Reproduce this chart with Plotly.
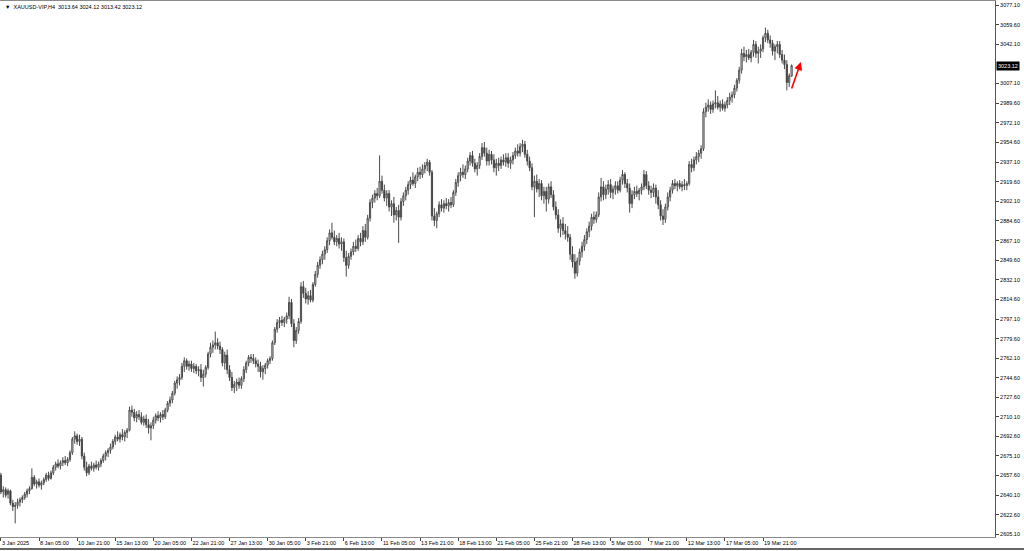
import plotly.graph_objects as go

symbol_title = "XAUUSD-VIP,H4  3013.64 3024.12 3013.42 3023.12"

opens = [
    2658, 2643, 2645, 2641, 2644, 2633, 2630, 2631, 2634, 2636,
    2638, 2641, 2644, 2646, 2656, 2650, 2652, 2649, 2651, 2654,
    2658, 2655, 2660, 2665, 2668, 2666, 2669, 2671, 2669, 2672,
    2678, 2690, 2693, 2688, 2690, 2675, 2665, 2660, 2666, 2664,
    2667, 2665, 2668, 2671, 2675, 2678, 2680, 2683, 2688, 2692,
    2690, 2694, 2692, 2696, 2698, 2716, 2714, 2709, 2712, 2710,
    2705, 2708, 2703, 2700, 2702, 2707, 2711, 2709, 2712, 2710,
    2716, 2722, 2725, 2731, 2740, 2743, 2745, 2755, 2760, 2755,
    2757, 2753, 2755, 2751, 2752, 2745, 2748, 2754, 2766, 2772,
    2774, 2776, 2773, 2770, 2758, 2765, 2752, 2745, 2736, 2739,
    2741, 2738, 2744, 2752, 2758, 2763, 2762, 2760, 2757, 2755,
    2750, 2753, 2756, 2760, 2762, 2776, 2788, 2794, 2796, 2794,
    2797, 2800, 2812, 2793, 2778, 2787, 2795, 2826, 2820, 2815,
    2818, 2814, 2828, 2837, 2845, 2850, 2855, 2859, 2867, 2874,
    2870, 2866, 2869, 2864, 2866, 2852, 2845, 2853, 2857, 2862,
    2860, 2869, 2866, 2876, 2870, 2887, 2901, 2905, 2909, 2907,
    2920, 2912, 2905, 2909, 2897, 2900, 2890, 2894, 2888, 2902,
    2907, 2912, 2917, 2921, 2918, 2924, 2928, 2926, 2931, 2934,
    2937, 2928, 2889, 2885, 2891, 2899, 2896, 2900, 2898, 2901,
    2899, 2910, 2919, 2925, 2928, 2926, 2931, 2938, 2943, 2936,
    2931, 2934, 2942, 2950, 2945, 2938, 2944, 2939, 2932, 2936,
    2934, 2939, 2937, 2941, 2936, 2939, 2943, 2947, 2945, 2951,
    2953, 2944, 2938, 2932, 2915, 2920, 2913, 2918, 2907, 2911,
    2904, 2915, 2908, 2897, 2890, 2878, 2882, 2876, 2873, 2870,
    2855, 2848, 2838, 2849, 2857, 2862, 2868, 2875, 2880, 2888,
    2886, 2890, 2906, 2915, 2908, 2913, 2917, 2910, 2913, 2916,
    2912, 2921, 2926, 2918, 2914, 2900, 2908, 2911, 2909, 2912,
    2915, 2926, 2916, 2912, 2910, 2914, 2906, 2899, 2889, 2886,
    2897, 2906, 2912, 2918, 2916, 2918, 2915, 2917, 2916, 2918,
    2935, 2932, 2939, 2942, 2945, 2949, 2982, 2986, 2988, 2984,
    2989, 2990, 2986, 2989, 2985, 2988, 2992, 2995, 2997, 3003,
    3010, 3019, 3034, 3031, 3033, 3030, 3035, 3042, 3034, 3036,
    3038, 3048, 3052, 3046, 3043, 3036, 3040, 3042, 3033, 3028,
    3024, 3008, 3013.64,
]

highs = [
    2660, 2648, 2647, 2646, 2645, 2636, 2634, 2637, 2638, 2640,
    2643, 2646, 2648, 2664, 2658, 2654, 2655, 2653, 2656, 2660,
    2661, 2662, 2667, 2670, 2672, 2671, 2674, 2675, 2674, 2680,
    2692, 2697, 2695, 2694, 2692, 2678, 2670, 2668, 2670, 2669,
    2671, 2670, 2673, 2677, 2680, 2682, 2686, 2690, 2694, 2697,
    2696, 2699, 2698, 2700, 2719, 2720, 2717, 2715, 2716, 2714,
    2711, 2712, 2708, 2705, 2710, 2713, 2715, 2714, 2716, 2718,
    2724, 2728, 2733, 2742, 2746, 2748, 2758, 2763, 2762, 2760,
    2760, 2758, 2757, 2755, 2757, 2752, 2756, 2768, 2776, 2778,
    2786, 2780, 2777, 2772, 2768, 2770, 2756, 2750, 2742, 2744,
    2745, 2746, 2755, 2760, 2765, 2766, 2766, 2763, 2761, 2759,
    2756, 2758, 2762, 2764, 2778, 2790, 2797, 2799, 2800, 2799,
    2803, 2817, 2815, 2797, 2790, 2798, 2830, 2831, 2825, 2822,
    2823, 2830, 2840, 2848, 2853, 2858, 2862, 2870, 2877, 2883,
    2876, 2872, 2874, 2870, 2869, 2858, 2856, 2860, 2866, 2868,
    2872, 2874, 2880, 2882, 2890, 2904, 2908, 2912, 2914, 2943,
    2925, 2917, 2912, 2912, 2903, 2906, 2897, 2899, 2905, 2910,
    2915, 2920, 2924, 2928, 2926, 2932, 2933, 2935, 2937, 2940,
    2939, 2930, 2896, 2893, 2902, 2904, 2903, 2905, 2904, 2906,
    2912, 2922, 2928, 2932, 2935, 2934, 2941, 2946, 2947, 2940,
    2937, 2945, 2954, 2955, 2950, 2948, 2947, 2944, 2940, 2941,
    2942, 2944, 2945, 2945, 2942, 2946, 2950, 2953, 2954, 2957,
    2956, 2948, 2942, 2936, 2925, 2926, 2922, 2921, 2915, 2915,
    2918, 2920, 2912, 2902, 2895, 2886, 2888, 2882, 2880, 2873,
    2862, 2855, 2852, 2860, 2866, 2872, 2878, 2884, 2891, 2893,
    2893, 2910, 2923, 2920, 2917, 2921, 2922, 2916, 2920, 2920,
    2924, 2930, 2928, 2922, 2918, 2912, 2915, 2916, 2914, 2918,
    2930, 2929, 2920, 2916, 2918, 2917, 2912, 2903, 2895, 2900,
    2910, 2915, 2921, 2922, 2920, 2921, 2920, 2922, 2920, 2938,
    2940, 2942, 2946, 2948, 2952, 2985, 2990, 2993, 2991, 2992,
    3001, 2996, 2992, 2993, 2991, 2995, 2999, 3000, 3006, 3012,
    3022, 3038, 3040, 3037, 3038, 3037, 3046, 3045, 3040, 3042,
    3050, 3057, 3055, 3050, 3046, 3042, 3045, 3045, 3037, 3033,
    3028, 3016, 3024.12,
]

lows = [
    2641, 2638, 2638, 2637, 2631, 2626, 2615, 2628, 2630, 2633,
    2636, 2638, 2641, 2645, 2648, 2646, 2647, 2645, 2649, 2652,
    2653, 2654, 2658, 2662, 2664, 2663, 2666, 2667, 2666, 2670,
    2676, 2686, 2685, 2684, 2672, 2662, 2657, 2658, 2662, 2661,
    2663, 2662, 2665, 2669, 2671, 2674, 2677, 2681, 2685, 2688,
    2687, 2689, 2688, 2691, 2697, 2710, 2706, 2705, 2707, 2703,
    2702, 2700, 2695, 2689, 2699, 2704, 2706, 2705, 2707, 2708,
    2714, 2719, 2722, 2729, 2735, 2738, 2743, 2750, 2752, 2751,
    2750, 2749, 2748, 2746, 2741, 2737, 2745, 2752, 2763, 2767,
    2770, 2770, 2766, 2755, 2752, 2748, 2742, 2733, 2731, 2733,
    2735, 2735, 2741, 2749, 2755, 2758, 2757, 2754, 2750, 2745,
    2743, 2748, 2753, 2757, 2760, 2774, 2785, 2789, 2791, 2790,
    2793, 2797, 2790, 2772, 2775, 2784, 2793, 2816, 2811, 2810,
    2812, 2812, 2826, 2834, 2842, 2846, 2850, 2856, 2863, 2868,
    2863, 2862, 2860, 2858, 2848, 2835, 2842, 2850, 2854, 2857,
    2858, 2862, 2863, 2866, 2868, 2884, 2896, 2901, 2903, 2905,
    2909, 2902, 2898, 2893, 2889, 2883, 2885, 2865, 2885, 2898,
    2903, 2908, 2913, 2916, 2914, 2920, 2922, 2923, 2927, 2929,
    2925, 2885, 2880, 2878, 2888, 2893, 2892, 2895, 2893, 2896,
    2897, 2907, 2915, 2920, 2923, 2922, 2928, 2934, 2933, 2928,
    2925, 2931, 2939, 2942, 2934, 2934, 2935, 2928, 2925, 2929,
    2931, 2934, 2933, 2932, 2931, 2935, 2940, 2942, 2942, 2946,
    2941, 2934, 2929, 2912, 2888, 2910, 2906, 2903, 2900, 2893,
    2900, 2905, 2894, 2886, 2874, 2870, 2872, 2868, 2866, 2850,
    2843, 2833, 2835, 2845, 2852, 2858, 2864, 2870, 2876, 2882,
    2883, 2888, 2902, 2903, 2904, 2908, 2905, 2904, 2908, 2909,
    2910, 2917, 2914, 2910, 2892, 2896, 2904, 2906, 2903, 2908,
    2912, 2913, 2908, 2905, 2906, 2900, 2895, 2885, 2881, 2883,
    2894, 2902, 2909, 2913, 2911, 2913, 2911, 2912, 2912, 2916,
    2928, 2929, 2935, 2937, 2940, 2947, 2977, 2982, 2980, 2981,
    2985, 2984, 2982, 2983, 2982, 2985, 2988, 2990, 2994, 3000,
    3007, 3016, 3027, 3026, 3028, 3026, 3031, 3030, 3025, 3030,
    3035, 3044, 3043, 3039, 3032, 3028, 3034, 3030, 3025, 3020,
    3001, 3004, 3013.42,
]

closes = [
    2643, 2645, 2640, 2644, 2633, 2630, 2631, 2634, 2636, 2638,
    2641, 2644, 2646, 2656, 2650, 2652, 2649, 2651, 2654, 2658,
    2655, 2660, 2665, 2668, 2666, 2669, 2671, 2669, 2672, 2678,
    2690, 2693, 2688, 2690, 2675, 2665, 2660, 2666, 2664, 2667,
    2665, 2668, 2671, 2675, 2678, 2680, 2683, 2688, 2692, 2690,
    2694, 2692, 2696, 2698, 2716, 2714, 2709, 2712, 2710, 2705,
    2708, 2703, 2700, 2702, 2707, 2711, 2709, 2712, 2710, 2716,
    2722, 2725, 2731, 2740, 2743, 2745, 2755, 2760, 2755, 2757,
    2753, 2755, 2751, 2752, 2745, 2748, 2754, 2766, 2772, 2774,
    2776, 2773, 2770, 2758, 2765, 2752, 2745, 2736, 2739, 2741,
    2738, 2744, 2752, 2758, 2763, 2762, 2760, 2757, 2755, 2750,
    2753, 2756, 2760, 2762, 2776, 2788, 2794, 2796, 2794, 2797,
    2800, 2812, 2793, 2778, 2787, 2795, 2826, 2820, 2815, 2818,
    2814, 2828, 2837, 2845, 2850, 2855, 2859, 2867, 2874, 2870,
    2866, 2869, 2864, 2866, 2852, 2845, 2853, 2857, 2862, 2860,
    2869, 2866, 2876, 2870, 2887, 2901, 2905, 2909, 2907, 2920,
    2912, 2905, 2909, 2897, 2900, 2890, 2894, 2888, 2902, 2907,
    2912, 2917, 2921, 2918, 2924, 2928, 2926, 2931, 2934, 2937,
    2928, 2889, 2885, 2891, 2899, 2896, 2900, 2898, 2901, 2899,
    2910, 2919, 2925, 2928, 2926, 2931, 2938, 2943, 2936, 2931,
    2934, 2942, 2950, 2945, 2938, 2944, 2939, 2932, 2936, 2934,
    2939, 2937, 2941, 2936, 2939, 2943, 2947, 2945, 2951, 2953,
    2944, 2938, 2932, 2915, 2920, 2913, 2918, 2907, 2911, 2904,
    2915, 2908, 2897, 2890, 2878, 2882, 2876, 2873, 2870, 2855,
    2848, 2838, 2849, 2857, 2862, 2868, 2875, 2880, 2888, 2886,
    2890, 2906, 2915, 2908, 2913, 2917, 2910, 2913, 2916, 2912,
    2921, 2926, 2918, 2914, 2900, 2908, 2911, 2909, 2912, 2915,
    2926, 2916, 2912, 2910, 2914, 2906, 2899, 2889, 2886, 2897,
    2906, 2912, 2918, 2916, 2918, 2915, 2917, 2916, 2918, 2935,
    2932, 2939, 2942, 2945, 2949, 2982, 2986, 2988, 2984, 2989,
    2990, 2986, 2989, 2985, 2988, 2992, 2995, 2997, 3003, 3010,
    3019, 3034, 3031, 3033, 3030, 3035, 3042, 3034, 3036, 3038,
    3048, 3052, 3046, 3043, 3036, 3040, 3042, 3033, 3028, 3024,
    3008, 3014, 3023.12,
]

date_labels = [
    "3 Jan 2025", "8 Jan 05:00", "10 Jan 21:00", "15 Jan 13:00", "20 Jan 05:00",
    "22 Jan 21:00", "27 Jan 13:00", "30 Jan 05:00", "3 Feb 21:00", "6 Feb 13:00",
    "11 Feb 05:00", "13 Feb 21:00", "18 Feb 13:00", "21 Feb 05:00", "25 Feb 21:00",
    "28 Feb 13:00", "5 Mar 05:00", "7 Mar 21:00", "12 Mar 13:00", "17 Mar 05:00",
    "19 Mar 21:00",
]

price_ticks = [
    3077.10, 3059.60, 3042.10, 3007.10, 2989.60, 2972.10, 2954.60, 2937.10,
    2919.60, 2902.10, 2884.60, 2867.10, 2849.60, 2832.10, 2814.60, 2797.10,
    2779.60, 2762.10, 2744.60, 2727.60, 2710.10, 2692.60, 2675.10, 2657.60,
    2640.10, 2622.60, 2605.10,
]

last_price = 3023.12
arrow_from = (331.8, 3001.3)
arrow_to = (335.9, 3026.3)

bars_per_label = 16
bar_index = list(range(len(closes)))
label_positions = [i * bars_per_label for i in range(len(date_labels))]

FONT = "Liberation Sans"
FS = 5.5
CANDLE = "#4a4a4a"

fig = go.Figure(
    go.Candlestick(
        x=bar_index, open=opens, high=highs, low=lows, close=closes,
        increasing=dict(line=dict(color=CANDLE, width=1), fillcolor="#ffffff"),
        decreasing=dict(line=dict(color=CANDLE, width=1), fillcolor="#1c1c1c"),
        whiskerwidth=0, hoverinfo="skip", showlegend=False,
    )
)

fig.update_layout(
    width=1024, height=551,
    margin=dict(l=0, r=29, t=1, b=14),
    paper_bgcolor="#ffffff", plot_bgcolor="#ffffff",
    font=dict(family=FONT, size=FS, color="#000000"),
    showlegend=False,
    xaxis=dict(
        range=[-0.38, 417.4], tickmode="array", tickvals=label_positions, ticktext=date_labels,
        ticks="outside", ticklen=3, tickcolor="#444", tickwidth=1, tickangle=0,
        ticklabelposition="outside right", showgrid=False, zeroline=False,
        showline=True, linecolor="#8a8a8a", linewidth=1, mirror=True,
        rangeslider=dict(visible=False), automargin=False,
        tickfont=dict(family=FONT, size=FS, color="#000"),
    ),
    yaxis=dict(
        side="right", range=[2602.8, 3080.7], tickmode="array", tickvals=price_ticks,
        tickformat=".2f", ticks="outside", ticklen=3, tickcolor="#444",
        showgrid=False, zeroline=False, showline=True, linecolor="#555", linewidth=1,
        mirror=True, automargin=False,
        tickfont=dict(family=FONT, size=FS, color="#000"),
    ),
)

fig.add_annotation(
    xref="paper", yref="paper", x=0.003, y=1, xanchor="left", yanchor="top", yshift=-1,
    text="\u25bc  " + symbol_title, showarrow=False,
    font=dict(family=FONT, size=FS, color="#000"),
)
fig.add_annotation(
    xref="paper", yref="y", x=1, y=last_price, xanchor="left", yanchor="middle", xshift=1,
    text=f"{last_price:.2f}", showarrow=False, bgcolor="#000000", borderpad=1,
    font=dict(family=FONT, size=FS, color="#ffffff"),
)
fig.add_annotation(
    x=arrow_to[0], y=arrow_to[1], ax=arrow_from[0], ay=arrow_from[1],
    xref="x", yref="y", axref="x", ayref="y", text="", showarrow=True,
    arrowhead=2, arrowsize=1, arrowwidth=1.6, arrowcolor="#ff0000",
)
fig.add_shape(
    type="line", xref="paper", yref="paper", x0=0, x1=1.03, y0=-0.0224, y1=-0.0224,
    line=dict(color="#666666", width=2),
)

fig.write_html("out.html", config={"displayModeBar": False},
               post_script="document.body.style.margin='0';")
